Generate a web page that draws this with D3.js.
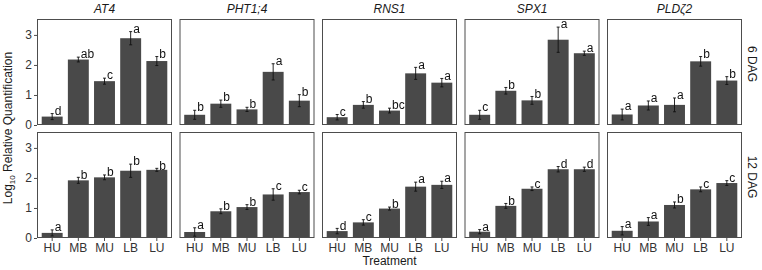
<!DOCTYPE html>
<html>
<head>
<meta charset="utf-8">
<script src="https://cdn.jsdelivr.net/npm/d3@7"></script>
<style>
  body { margin: 0; background: #fff; }
  text { font-family: "Liberation Sans", Arial, sans-serif; }
  .sig { filter: grayscale(1); }
</style>
</head>
<body>
<div id="chart"></div>
<script>
// categories
const treatments = ["HU", "MB", "MU", "LB", "LU"];
const genes = ["AT4", "PHT1;4", "RNS1", "SPX1", "PLDζ2"];
const stages = ["6 DAG", "12 DAG"];
const yTicks = [0, 1, 2, 3];

// 6 DAG: means, error half-widths, letters (one row per gene)
const mean6 = [
  [0.28, 2.18, 1.46, 2.89, 2.13],
  [0.34, 0.71, 0.52, 1.77, 0.81],
  [0.26, 0.67, 0.48, 1.72, 1.41],
  [0.34, 1.14, 0.82, 2.84, 2.39],
  [0.35, 0.65, 0.67, 2.12, 1.48]
];
const err6 = [
  [0.10, 0.08, 0.10, 0.22, 0.15],
  [0.15, 0.12, 0.07, 0.27, 0.20],
  [0.09, 0.11, 0.08, 0.20, 0.14],
  [0.15, 0.11, 0.13, 0.42, 0.07],
  [0.18, 0.15, 0.23, 0.16, 0.13]
];
const letters6 = [
  ["d", "ab", "c", "a", "b"],
  ["b", "b", "b", "a", "b"],
  ["c", "b", "bc", "a", "a"],
  ["c", "b", "b", "a", "a"],
  ["a", "a", "a", "b", "b"]
];

// 12 DAG
const mean12 = [
  [0.17, 1.92, 2.02, 2.24, 2.27],
  [0.20, 0.89, 1.03, 1.45, 1.53],
  [0.23, 0.52, 0.98, 1.71, 1.77],
  [0.21, 1.07, 1.64, 2.29, 2.29],
  [0.24, 0.55, 1.10, 1.62, 1.83]
];
const err12 = [
  [0.10, 0.10, 0.08, 0.22, 0.05],
  [0.14, 0.08, 0.08, 0.19, 0.06],
  [0.09, 0.09, 0.05, 0.15, 0.12],
  [0.07, 0.08, 0.06, 0.09, 0.07],
  [0.14, 0.13, 0.10, 0.08, 0.08]
];
const letters12 = [
  ["a", "b", "b", "b", "b"],
  ["a", "b", "b", "c", "c"],
  ["d", "c", "b", "a", "a"],
  ["a", "b", "c", "d", "d"],
  ["a", "a", "b", "c", "c"]
];

const W = 762, H = 270;
const left = 37, right = 742, gap = 7.5;
const panelW = (right - left - gap * 4) / 5;
const rows = [
  {top: 19, bottom: 125, mean: mean6, err: err6, letters: letters6},
  {top: 132, bottom: 238, mean: mean12, err: err12, letters: letters12}
];
const barColor = "#494949";
const frameColor = "#4d4d4d";

const svg = d3.select("#chart").append("svg")
  .attr("width", W)
  .attr("height", H);

const x = d3.scaleBand()
  .domain(treatments)
  .range([0, panelW])
  .paddingInner(0.2)
  .paddingOuter(0.18);

rows.forEach((row, r) => {
  const y = d3.scaleLinear()
    .domain([0, 3.53])
    .range([row.bottom, row.top]);

  genes.forEach((gene, g) => {
    const px = left + g * (panelW + gap);
    const panel = svg.append("g")
      .attr("transform", `translate(${px},0)`);

    const data = treatments.map((t, i) => ({
      t: t, v: row.mean[g][i], e: row.err[g][i], l: row.letters[g][i]
    }));

    panel.selectAll(".bar")
      .data(data)
      .join("rect")
      .attr("class", "bar")
      .attr("x", d => x(d.t))
      .attr("width", x.bandwidth())
      .attr("y", d => y(d.v))
      .attr("height", d => y(0) - y(d.v))
      .attr("fill", barColor);

    // error bars
    const cx = d => x(d.t) + x.bandwidth() / 2;
    panel.selectAll(".err")
      .data(data)
      .join("path")
      .attr("class", "err")
      .attr("fill", "none")
      .attr("stroke", "#111")
      .attr("stroke-width", 0.9)
      .attr("d", d => {
        const c = cx(d), y1 = y(d.v + d.e), y0 = y(Math.max(0, d.v - d.e));
        return `M${c - 1.5},${y1}H${c + 1.5}M${c},${y1}V${y0}M${c - 1.5},${y0}H${c + 1.5}`;
      });

    panel.selectAll(".sig")
      .data(data)
      .join("text")
      .attr("class", "sig")
      .attr("x", d => cx(d) + 2.5)
      .attr("y", d => y(d.v + d.e) + 1.2)
      .attr("font-size", 12)
      .attr("fill", "#111")
      .text(d => d.l);

    // frame
    panel.append("rect")
      .attr("x", 0.5)
      .attr("y", row.top + 0.5)
      .attr("width", panelW - 1)
      .attr("height", row.bottom - row.top - 1)
      .attr("fill", "none")
      .attr("stroke", frameColor)
      .attr("stroke-width", 1);

    if (r === 0) {
      panel.append("text")
        .attr("x", panelW / 2)
        .attr("y", 13)
        .attr("text-anchor", "middle")
        .attr("font-size", 12)
        .attr("font-style", "italic")
        .attr("fill", "#1a1a1a")
        .text(gene);
    }

    if (r === 1) {
      const xAxis = panel.append("g")
        .attr("transform", `translate(0,${row.bottom})`)
        .call(d3.axisBottom(x).tickSize(3).tickPadding(2));
      xAxis.select(".domain").remove();
      xAxis.selectAll("line").attr("stroke", frameColor);
      xAxis.selectAll("text")
        .attr("font-size", 12)
        .attr("fill", "#333")
        .attr("font-family", "Liberation Sans, Arial, sans-serif");
    }

    if (g === 0) {
      const yAxis = panel.append("g")
        .call(d3.axisLeft(y).tickValues(yTicks).tickFormat(d3.format("d")).tickSize(3).tickPadding(2));
      yAxis.select(".domain").remove();
      yAxis.selectAll("line").attr("stroke", frameColor);
      yAxis.selectAll("text")
        .attr("font-size", 12)
        .attr("fill", "#333")
        .attr("font-family", "Liberation Sans, Arial, sans-serif");
    }
  });

  // strip label on the right
  const sy = (row.top + row.bottom) / 2 - 8;
  svg.append("text")
    .attr("transform", `translate(748,${sy}) rotate(90)`)
    .attr("text-anchor", "middle")
    .attr("font-size", 12)
    .attr("fill", "#1a1a1a")
    .text(stages[r]);
});

// axis titles
svg.append("text")
  .attr("x", (left + right) / 2)
  .attr("y", 265)
  .attr("text-anchor", "middle")
  .attr("font-size", 12)
  .attr("fill", "#1a1a1a")
  .text("Treatment");

const yTitle = svg.append("text")
  .attr("transform", `translate(12,128) rotate(-90)`)
  .attr("text-anchor", "middle")
  .attr("font-size", 12)
  .attr("fill", "#1a1a1a");
yTitle.append("tspan").text("Log");
yTitle.append("tspan").attr("font-size", 8).attr("dy", 3).text("10");
yTitle.append("tspan").attr("dy", -3).text(" Relative Quantification");
</script>
</body>
</html>
